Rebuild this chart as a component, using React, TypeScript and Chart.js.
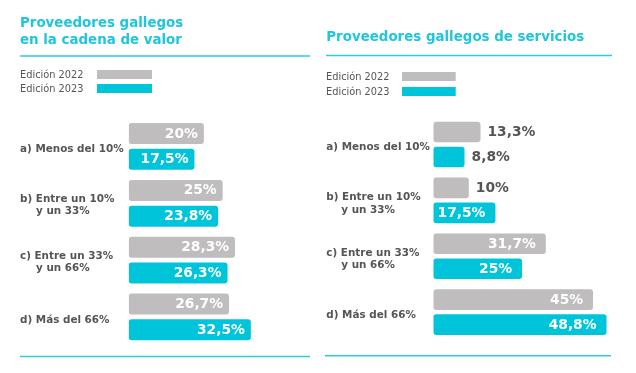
import React, { useEffect, useRef } from "react";
import { Chart, registerables } from "chart.js";
Chart.register(...registerables);

const seriesLabels = ["Edición 2022", "Edición 2023"];
const categoryLines = [
  ["a) Menos del 10%"],
  ["b) Entre un 10%", "y un 33%"],
  ["c) Entre un 33%", "y un 66%"],
  ["d) Más del 66%"],
];
const cadena2022 = [20, 25, 28.3, 26.7];
const cadena2023 = [17.5, 23.8, 26.3, 32.5];
const servicios2022 = [13.3, 10, 31.7, 45];
const servicios2023 = [8.8, 17.5, 25, 48.8];
const titleCadena = ["Proveedores gallegos", "en la cadena de valor"];
const titleServicios = ["Proveedores gallegos de servicios"];

const CYAN = "#00C5DA";
const GRAY = "#BFBDBE";
const TITLE = "#1FC6DC";
const LINE = "#2ECBDD";
const TEXT = "#555555";
const FONT = "'DejaVu Sans', Verdana, sans-serif";

const fmt = (v: number) => String(v).replace(".", ",") + "%";

type Panel = {
  title: string[];
  titleX: number;
  titleY: number[];
  topLine: [number, number, number];
  bottomLine: [number, number, number];
  legendTextX: number;
  legendBarX: [number, number];
  legendBarY: number[];
  labelX: number;
  indent: number;
  singleDy: number;
  multiDy: [number, number];
  padding: { left: number; right: number; top: number; bottom: number };
  xMax: number;
  catPct: number;
  barPct: number;
  insidePad: number;
  d22: number[];
  d23: number[];
};

const panels: Panel[] = [
  {
    title: titleCadena,
    titleX: 20,
    titleY: [26.7, 44.3],
    topLine: [20, 310, 56],
    bottomLine: [20, 310, 356.5],
    legendTextX: 20,
    legendBarX: [97, 152],
    legendBarY: [70, 84],
    labelX: 20,
    indent: 16,
    singleDy: 3,
    multiDy: [-4, 8.5],
    padding: { left: 128.7, right: 8.9, top: 118, bottom: 27.6 },
    xMax: 48,
    catPct: 0.907,
    barPct: 0.814,
    insidePad: 6,
    d22: cadena2022,
    d23: cadena2023,
  },
  {
    title: titleServicios,
    titleX: 8.3,
    titleY: [40.7],
    topLine: [8, 294, 55.5],
    bottomLine: [7, 293, 355.7],
    legendTextX: 8,
    legendBarX: [84, 137.7],
    legendBarY: [72, 87],
    labelX: 8.3,
    indent: 15,
    singleDy: 2.8,
    multiDy: [-3.2, 9.5],
    padding: { left: 115.3, right: 25.2, top: 116.5, bottom: 32.9 },
    xMax: 50,
    catPct: 0.894,
    barPct: 0.824,
    insidePad: 10,
    d22: servicios2022,
    d23: servicios2023,
  },
];

function makePlugin(p: Panel) {
  return {
    id: "deco",
    afterDraw(chart: any) {
      const ctx = chart.ctx as CanvasRenderingContext2D;
      ctx.save();
      // title
      ctx.fillStyle = TITLE;
      ctx.font = `bold 13.4px ${FONT}`;
      ctx.textAlign = "left";
      ctx.textBaseline = "alphabetic";
      p.title.forEach((t, i) => ctx.fillText(t, p.titleX, p.titleY[i]));
      // lines
      ctx.strokeStyle = LINE;
      ctx.lineWidth = 1.5;
      for (const [x0, x1, y] of [p.topLine, p.bottomLine]) {
        ctx.beginPath();
        ctx.moveTo(x0, y);
        ctx.lineTo(x1, y);
        ctx.stroke();
      }
      // legend
      ctx.font = `9.8px ${FONT}`;
      ctx.textBaseline = "middle";
      [GRAY, CYAN].forEach((c, i) => {
        const y = p.legendBarY[i];
        ctx.fillStyle = c;
        ctx.fillRect(p.legendBarX[0], y, p.legendBarX[1] - p.legendBarX[0], 9);
        ctx.fillStyle = TEXT;
        ctx.fillText(seriesLabels[i], p.legendTextX, y + 5);
      });
      // category labels
      const yScale = chart.scales.y;
      ctx.font = `bold 10.4px ${FONT}`;
      ctx.fillStyle = TEXT;
      categoryLines.forEach((lines, i) => {
        const cy = yScale.getPixelForValue(i);
        if (lines.length === 1) {
          ctx.fillText(lines[0], p.labelX, cy + p.singleDy);
        } else {
          ctx.fillText(lines[0], p.labelX, cy + p.multiDy[0]);
          ctx.fillText(lines[1], p.labelX + p.indent, cy + p.multiDy[1]);
        }
      });
      // value labels
      ctx.font = `bold 13.8px ${FONT}`;
      chart.data.datasets.forEach((ds: any, di: number) => {
        const meta = chart.getDatasetMeta(di);
        meta.data.forEach((bar: any, i: number) => {
          const v = ds.data[i];
          const txt = fmt(v);
          if (v >= 15) {
            ctx.fillStyle = "#FFFFFF";
            ctx.textAlign = "right";
            ctx.fillText(txt, bar.x - p.insidePad, bar.y + 0.5);
          } else {
            ctx.fillStyle = TEXT;
            ctx.textAlign = "left";
            ctx.fillText(txt, bar.x + 7, bar.y + 0.5);
          }
        });
      });
      ctx.restore();
    },
  };
}

function PanelChart({ p }: { p: Panel }) {
  const ref = useRef<HTMLCanvasElement>(null);
  useEffect(() => {
    if (!ref.current) return;
    const chart = new Chart(ref.current, {
      type: "bar",
      data: {
        labels: categoryLines.map((l) => l.join(" ")),
        datasets: [
          {
            label: seriesLabels[0],
            data: p.d22,
            backgroundColor: GRAY,
            borderRadius: 3,
            borderSkipped: false,
            categoryPercentage: p.catPct,
            barPercentage: p.barPct,
          },
          {
            label: seriesLabels[1],
            data: p.d23,
            backgroundColor: CYAN,
            borderRadius: 3,
            borderSkipped: false,
            categoryPercentage: p.catPct,
            barPercentage: p.barPct,
          },
        ],
      },
      options: {
        indexAxis: "y",
        responsive: false,
        animation: false,
        layout: { padding: p.padding },
        plugins: { legend: { display: false }, tooltip: { enabled: false }, title: { display: false } },
        scales: {
          x: { display: false, min: 0, max: p.xMax },
          y: { display: false },
        },
      },
      plugins: [makePlugin(p)],
    } as any);
    return () => chart.destroy();
  }, [p]);
  return <canvas ref={ref} width={318} height={373} style={{ display: "block" }} />;
}

export default function App() {
  return (
    <div
      style={{
        position: "absolute",
        left: 0,
        top: 0,
        width: 636,
        height: 373,
        display: "flex",
        background: "#FFFFFF",
      }}
    >
      {panels.map((p, i) => (
        <PanelChart key={i} p={p} />
      ))}
    </div>
  );
}
